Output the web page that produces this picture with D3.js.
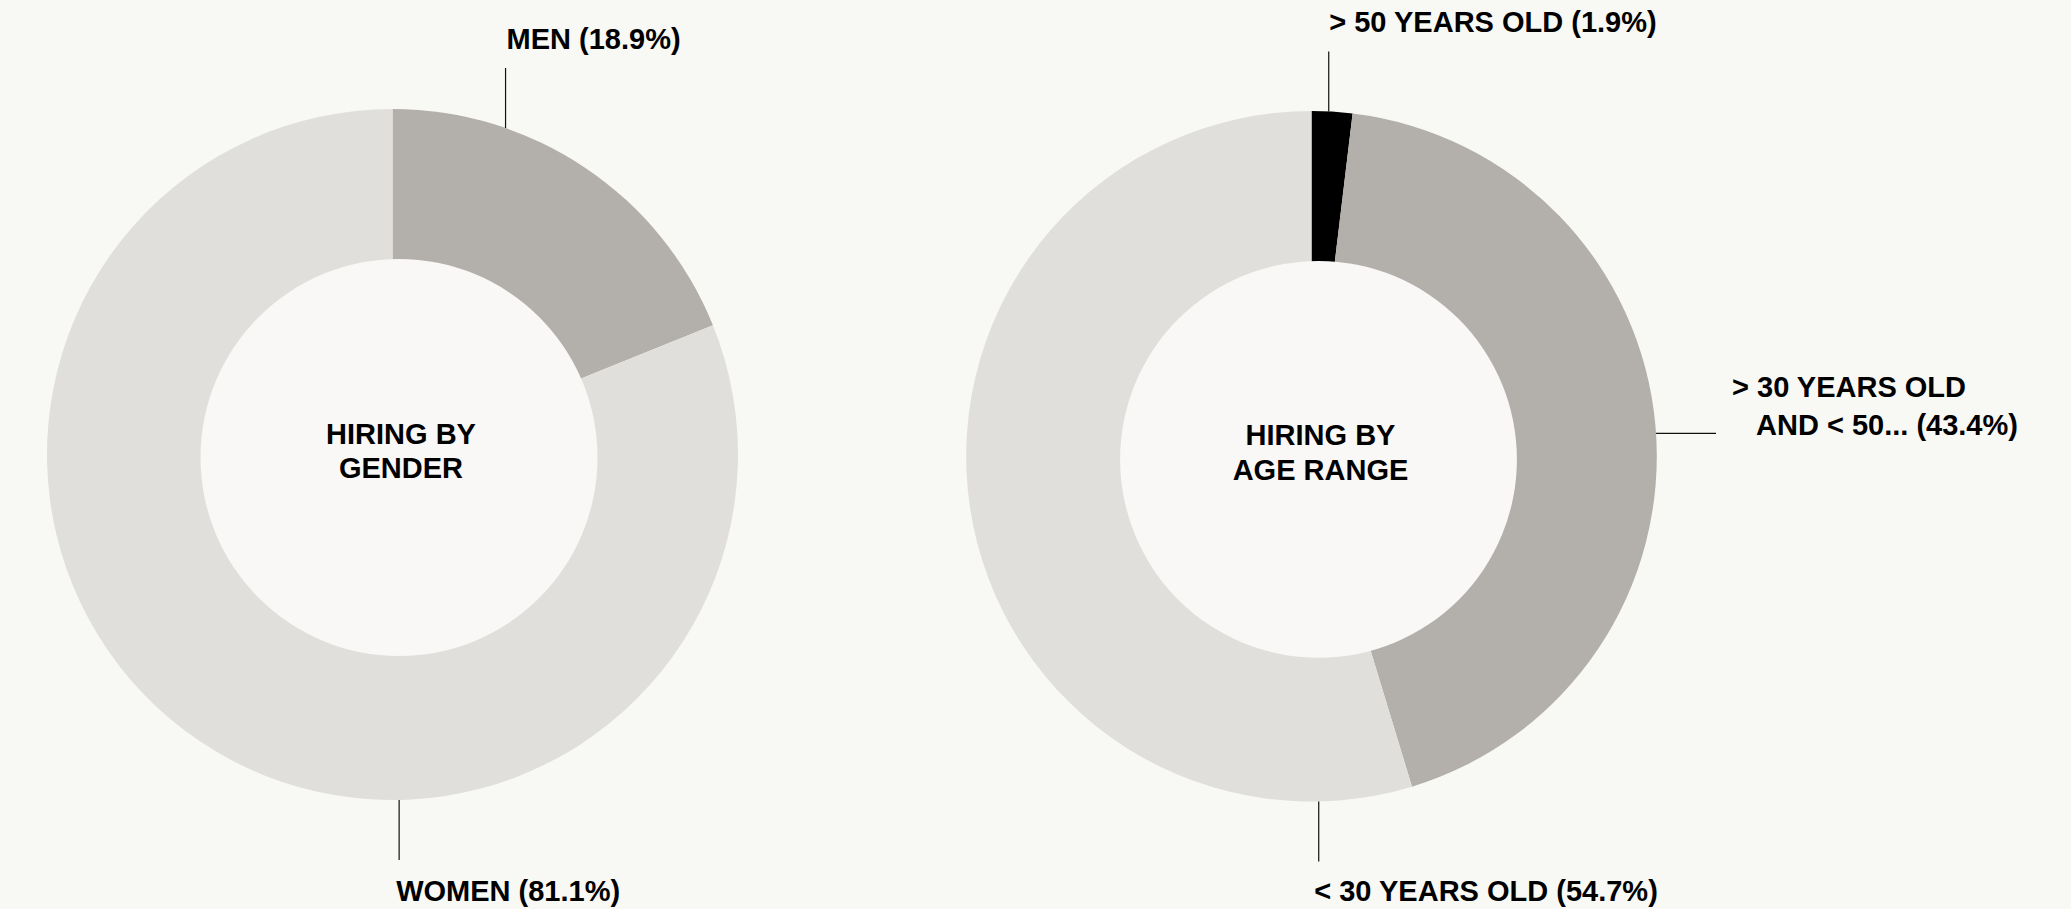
<!DOCTYPE html>
<html>
<head>
<meta charset="utf-8">
<script src="https://cdnjs.cloudflare.com/ajax/libs/d3/7.8.5/d3.min.js"></script>
<style>
  body { margin: 0; background: #f8f8f4; }
  svg { display: block; }
  .label, .center {
    font-family: "Liberation Sans", Arial, Helvetica, sans-serif;
    font-weight: bold;
    font-size: 29px;
    fill: #000;
  }
</style>
</head>
<body>
<svg id="chart" width="2071" height="909"></svg>
<script>
  // data
  var genderLabels = ["MEN", "WOMEN"];
  var genderValues = [18.9, 81.1];
  var ageLabels = ["> 50 YEARS OLD", "> 30 YEARS OLD\nAND < 50...", "< 30 YEARS OLD"];
  var ageValues = [1.9, 43.4, 54.7];

  var charts = [
    {
      title: ["HIRING BY", "GENDER"],
      labels: genderLabels,
      values: genderValues,
      colors: ["#b3b0ab", "#e0dfdc"],
      cx: 392.5, cy: 454.5, r: 345.5,
      hx: 399, hy: 457.5, hr: 198.5,
      // where each callout leaves the ring (degrees) and how its text sits
      callouts: [
        { angle: 19.1, dir: "up", dx: 1, dy: -19 },
        { angle: 178.9, dir: "down", dx: -3, dy: 41.5 }
      ]
    },
    {
      title: ["HIRING BY", "AGE RANGE"],
      labels: ageLabels,
      values: ageValues,
      colors: ["#000000", "#b3b0ab", "#e0dfdc"],
      cx: 1311.5, cy: 456.3, r: 345.3,
      hx: 1318.5, hy: 459.4, hr: 198.4,
      callouts: [
        { angle: 2.86, dir: "up", dx: 0.5, dy: -19 },
        { angle: 86.2, dir: "right", dx: 16, dy: -36.5, indent: 24, lh: 38.3 },
        { angle: 178.8, dir: "down", dx: -4.5, dy: 39.5 }
      ]
    }
  ];

  var svg = d3.select("#chart");
  var leader = 60;

  var pie = d3.pie().sort(null).value(function(d) { return d; });

  charts.forEach(function(c) {
    var arc = d3.arc().innerRadius(0).outerRadius(c.r);
    var g = svg.append("g").attr("transform", "translate(" + c.cx + "," + c.cy + ")");

    g.selectAll("path")
      .data(pie(c.values))
      .enter()
      .append("path")
      .attr("d", arc)
      .attr("fill", function(d, i) { return c.colors[i]; });

    // the hole
    svg.append("circle")
      .attr("cx", c.hx)
      .attr("cy", c.hy)
      .attr("r", c.hr)
      .attr("fill", "#f9f8f6");

    // title in the hole
    svg.append("text")
      .attr("class", "center")
      .attr("text-anchor", "middle")
      .selectAll("tspan")
      .data(c.title)
      .enter()
      .append("tspan")
      .attr("x", c.hx + 2)
      .attr("y", function(d, i) { return c.hy - 14 + i * 34.5; })
      .text(function(d) { return d; });

    // callouts
    c.callouts.forEach(function(co, i) {
      var p = d3.pointRadial(co.angle * Math.PI / 180, c.r);
      var x0 = c.cx + p[0], y0 = c.cy + p[1];
      var x1 = x0, y1 = y0;
      if (co.dir == "up") y1 = y0 - leader;
      if (co.dir == "down") y1 = y0 + leader;
      if (co.dir == "right") x1 = x0 + leader;

      svg.append("line")
        .attr("x1", x0).attr("y1", y0)
        .attr("x2", x1).attr("y2", y1)
        .attr("stroke", "#111")
        .attr("stroke-width", 1.2);

      var lines = (c.labels[i] + " (" + c.values[i] + "%)").split("\n");
      svg.append("text")
        .attr("class", "label")
        .selectAll("tspan")
        .data(lines)
        .enter()
        .append("tspan")
        .attr("x", function(d, j) { return x1 + co.dx + j * (co.indent || 0); })
        .attr("y", function(d, j) { return y1 + co.dy + j * (co.lh || 0); })
        .text(function(d) { return d; });
    });
  });
</script>
</body>
</html>
